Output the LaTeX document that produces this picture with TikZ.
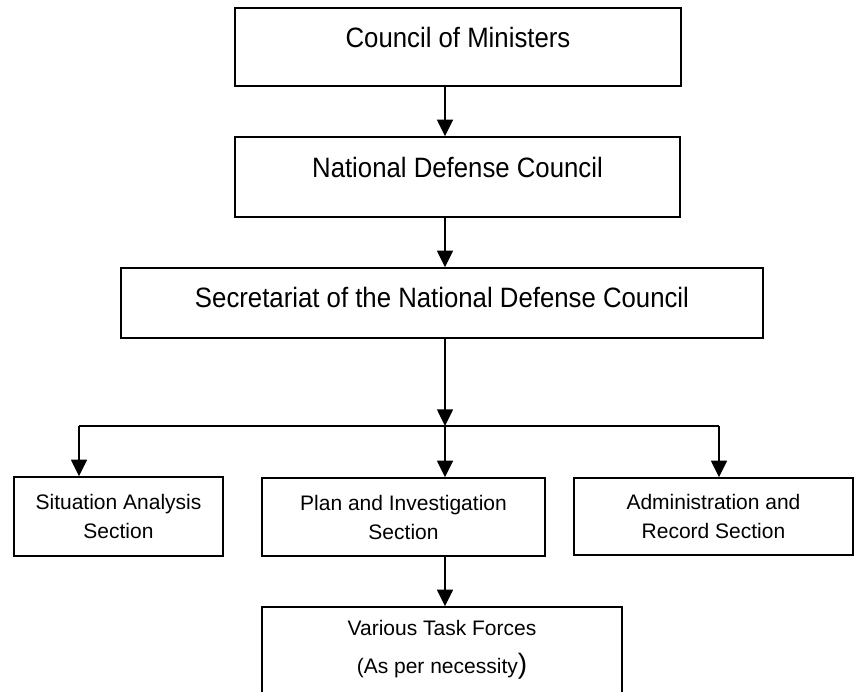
\documentclass[tikz,border=0pt]{standalone}
\usepackage{fontspec}
\setmainfont{Liberation Sans}
\newfontfamily\narrowfont[FakeStretch=0.92]{Liberation Sans}
\usetikzlibrary{arrows.meta}

\begin{document}
\begin{tikzpicture}[x=0.75pt,y=-0.75pt,
	box/.style={draw,line width=1.1pt,inner sep=0pt,align=center},
	topbox/.style={box,font=\narrowfont\fontsize{21}{26}\selectfont,text height=15pt},
	secbox/.style={box,font=\fontsize{15.75}{21.75}\selectfont},
	arr/.style={line width=1.1pt,-{Triangle[width=12pt,length=12.5pt]}}]
	\useasboundingbox (0,0) rectangle (857,692);
	\clip (0,0) rectangle (857,692);

	\node[topbox,minimum width=334.5pt,minimum height=58.5pt,text depth=14.25pt] (cm) at (458,47) {Council of Ministers};
	\node[topbox,minimum width=333.75pt,minimum height=60pt,text depth=14.25pt] (ndc) at (457.5,177) {National Defense Council};
	\node[topbox,minimum width=481.5pt,minimum height=52.5pt,text depth=8.25pt] (sec) at (442,303) {Secretariat of the National Defense Council};

	\node[secbox,minimum width=156.75pt,minimum height=59.25pt] (sa) at (118.5,516.5) {Situation Analysis\\Section};
	\node[secbox,minimum width=212.25pt,minimum height=58.5pt] (pi) at (403.5,517) {Plan and Investigation\\Section};
	\node[secbox,minimum width=209.25pt,minimum height=57.75pt] (ar) at (713.5,516.5) {Administration and\\Record Section};
	\node[box,font=\fontsize{15.75}{28.5}\selectfont,minimum width=270pt,minimum height=64.5pt] (vtf) at (442,650) {Various Task Forces\\(As per necessity{\fontsize{21}{28.5}\selectfont)}};

	\coordinate (jn) at (445,426);
	\coordinate (bl) at (79,426);
	\coordinate (br) at (719,426);

	\draw[arr] (cm.south -| jn) -- (ndc.north -| jn);
	\draw[arr] (ndc.south -| jn) -- (sec.north -| jn);
	\draw[arr] (sec.south -| jn) -- (jn);
	\draw[line width=1.1pt] (bl) -- (br);
	\draw[arr] (bl) -- (bl |- sa.north);
	\draw[arr] (jn) -- (jn |- pi.north);
	\draw[arr] (br) -- (br |- ar.north);
	\draw[arr] (pi.south -| jn) -- (vtf.north -| jn);
\end{tikzpicture}
\end{document}
